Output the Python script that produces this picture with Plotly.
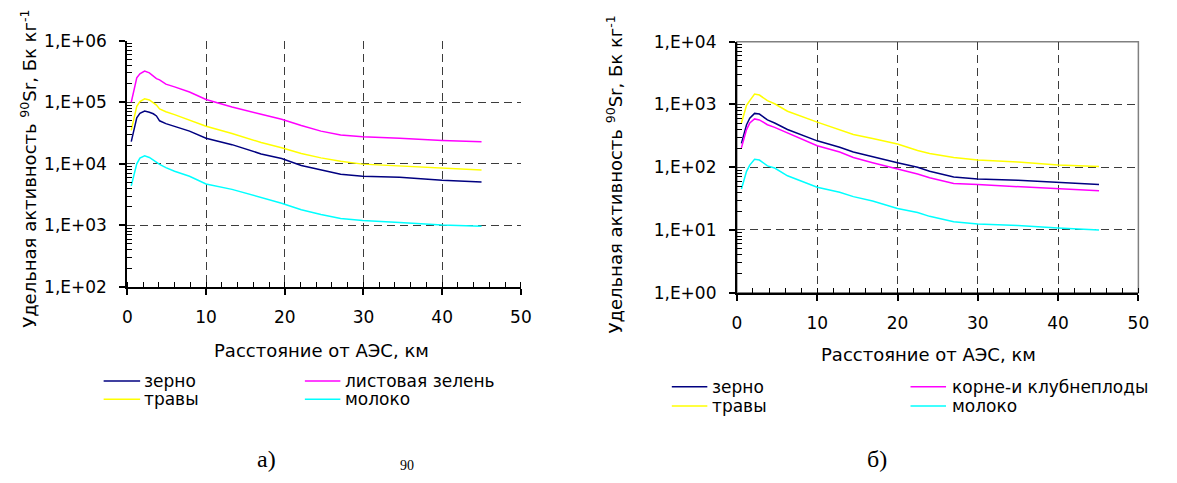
import plotly.graph_objects as go

# ---------------- data ----------------
# a) left chart
X_A = [0.5, 1.2, 1.6, 2.2, 2.8, 3.3, 3.7, 4.1, 4.9, 6.0, 7.9, 10.0, 13.3, 17.0,
       19.6, 22.1, 24.6, 27.1, 29.9, 34.6, 40.0, 45.0]
A_GRAIN = [2.3e4, 5.6e4, 6.6e4, 7.2e4, 6.9e4, 6.5e4, 6.0e4, 5.0e4, 4.5e4, 4.1e4, 3.4e4,
           2.6e4, 2.05e4, 1.45e4, 1.22e4, 9.4e3, 7.9e3, 6.8e3, 6.3e3, 6.05e3, 5.4e3, 5.07e3]
A_LEAF = [1.0e5, 2.5e5, 2.9e5, 3.2e5, 3.0e5, 2.7e5, 2.42e5, 2.31e5, 1.97e5, 1.78e5, 1.47e5,
          1.11e5, 8.4e4, 6.4e4, 5.3e4, 4.2e4, 3.4e4, 2.95e4, 2.75e4, 2.6e4, 2.39e4, 2.28e4]
A_GRASS = [3.5e4, 8.6e4, 1.03e5, 1.14e5, 1.09e5, 9.8e4, 9.0e4, 7.8e4, 7.0e4, 6.3e4, 5.1e4,
           4.08e4, 3.11e4, 2.22e4, 1.82e4, 1.47e4, 1.25e4, 1.1e4, 9.9e3, 9.2e3, 8.5e3, 7.98e3]
A_MILK = [4.4e3, 1.0e4, 1.24e4, 1.35e4, 1.27e4, 1.15e4, 1.06e4, 9.8e3, 8.7e3, 7.6e3, 6.3e3,
          4.7e3, 3.85e3, 2.86e3, 2.3e3, 1.8e3, 1.5e3, 1.3e3, 1.2e3, 1.12e3, 1.02e3, 0.97e3]
A_NAMES = ["зерно", "листовая зелень", "травы", "молоко"]

# б) right chart
X_B = [0.56, 1.2, 1.6, 2.2, 2.8, 3.8, 4.7, 6.3, 10.0, 12.8, 14.5, 16.9, 20.0, 22.5,
       24.0, 27.0, 30.0, 35.0, 40.0, 45.1]
B_GRAIN = [240, 475, 603, 720, 702, 567, 505, 398, 263, 208, 175, 146, 118, 100,
           86, 70, 65, 62, 57, 53]
B_ROOT = [203, 398, 505, 588, 567, 475, 431, 354, 220, 175, 143, 118, 94, 78,
          68, 55, 53, 49, 46, 42]
B_GRASS = [505, 966, 1150, 1460, 1410, 1150, 1025, 780, 523, 398, 333, 287, 234, 185,
           165, 143, 130, 121, 108, 103]
B_MILK = [45, 86, 108, 134, 130, 105, 97, 73, 48, 40, 34, 29, 22, 19,
          16.5, 13.5, 12.5, 11.8, 10.8, 10]
B_NAMES = ["зерно", "корне-и клубнеплоды", "травы", "молоко"]

X_TICKS = [0, 10, 20, 30, 40, 50]
A_YTICKS = [1e2, 1e3, 1e4, 1e5, 1e6]
A_YTEXT = ["1,E+02", "1,E+03", "1,E+04", "1,E+05", "1,E+06"]
B_YTICKS = [1e0, 1e1, 1e2, 1e3, 1e4]
B_YTEXT = ["1,E+00", "1,E+01", "1,E+02", "1,E+03", "1,E+04"]

X_TITLE = "Расстояние от АЭС, км"
Y_TITLE = "Удельная активность <sup>90</sup>Sr, Бк кг<sup>-1</sup>"
CAPTIONS = ["а)", "б)"]

COLORS = {"grain": "#000080", "leaf": "#FF00FF", "grass": "#FFFF00", "milk": "#00FFFF"}

# ---------------- figure ----------------
W, H = 1177, 483
def fx(p): return p / W
def fy(p): return 1 - p / H

SANS = "DejaVu Sans"
SERIF = "Liberation Serif"

fig = go.Figure()

series_a = [(A_NAMES[0], A_GRAIN, COLORS["grain"]), (A_NAMES[1], A_LEAF, COLORS["leaf"]),
            (A_NAMES[2], A_GRASS, COLORS["grass"]), (A_NAMES[3], A_MILK, COLORS["milk"])]
series_b = [(B_NAMES[0], B_GRAIN, COLORS["grain"]), (B_NAMES[1], B_ROOT, COLORS["leaf"]),
            (B_NAMES[2], B_GRASS, COLORS["grass"]), (B_NAMES[3], B_MILK, COLORS["milk"])]

for name, ys, col in series_a:
    fig.add_trace(go.Scatter(x=X_A, y=ys, mode="lines", name=name, showlegend=False,
                             line=dict(color=col, width=1.5), xaxis="x", yaxis="y"))
for name, ys, col in series_b:
    fig.add_trace(go.Scatter(x=X_B, y=ys, mode="lines", name=name, showlegend=False,
                             line=dict(color=col, width=1.5), xaxis="x2", yaxis="y2"))

tickfont = dict(family=SANS, size=17, color="black")
GRID = dict(showgrid=True, gridcolor="#3c3c3c", gridwidth=1.4, griddash="8px,5px")

def minor_log(lo, hi):
    vals = []
    for e in range(lo, hi):
        for m in range(2, 10):
            vals.append(m * 10 ** e)
    return vals

def xaxis(domain, anchor):
    return dict(domain=domain, anchor=anchor, range=[0, 50], tickvals=X_TICKS,
                ticks="outside", ticklen=6, tickwidth=1.5, tickcolor="black",
                showline=True, linecolor="black", linewidth=2, zeroline=False,
                minor=dict(ticks="inside", ticklen=5, tickwidth=1, tickcolor="black",
                           dtick=2, showgrid=False),
                tickfont=tickfont, ticklabelstandoff=8, fixedrange=True, **GRID)

def yaxis(domain, anchor, rng, tv, tt):
    return dict(domain=domain, anchor=anchor, type="log", range=rng, tickvals=tv, ticktext=tt,
                ticks="outside", ticklen=6, tickwidth=1.5, tickcolor="black",
                showline=True, linecolor="black", linewidth=2, zeroline=False,
                minor=dict(ticks="inside", ticklen=5, tickwidth=1, tickcolor="black",
                           tickvals=minor_log(rng[0], rng[1]), showgrid=False),
                tickfont=tickfont, ticklabelstandoff=9, fixedrange=True, **GRID)

annotations = []
shapes = []

def add_text(text, x, y, size, family=SANS, xanchor="center", yanchor="middle", angle=0):
    annotations.append(dict(text=text, x=fx(x), y=fy(y), xref="paper", yref="paper",
                            xanchor=xanchor, yanchor=yanchor, showarrow=False, textangle=angle,
                            font=dict(family=family, size=size, color="black")))

# axis titles
add_text(X_TITLE, 321, 355, 18)
add_text(X_TITLE, 936, 359, 18)
add_text(Y_TITLE, 24, 166, 18, angle=-90)
add_text(Y_TITLE, 618, 172, 18, angle=-90)

# legends (two columns per chart)
def legend(entries, cols_x, rows_y):
    # entries ordered: col1row1, col2row1, col1row2, col2row2
    pos = [(0, 0), (1, 0), (0, 1), (1, 1)]
    for (name, _, col), (c, r) in zip(entries, pos):
        x0, x1, xt = cols_x[c]
        y = rows_y[r]
        shapes.append(dict(type="line", xref="paper", yref="paper",
                           x0=fx(x0), x1=fx(x1), y0=fy(y), y1=fy(y),
                           line=dict(color=col, width=1.5)))
        add_text(name, xt, y, 17, xanchor="left")

legend(series_a, [(100, 137, 139), (304, 340, 343)], [387, 406])
legend(series_b, [(676, 712, 715), (918, 954, 958)], [393, 413])

# captions
add_text(CAPTIONS[0], 265, 468, 24, family=SERIF)
add_text(CAPTIONS[1], 884, 468, 24, family=SERIF)
add_text("90", 408, 475, 14, family=SERIF)

# frame for the right chart
shapes.append(dict(type="rect", xref="x2 domain", yref="y2 domain", x0=0, x1=1, y0=0, y1=1,
                   line=dict(color="#808080", width=1.5), layer="below"))

fig.update_layout(
    width=W, height=H, margin=dict(l=0, r=0, t=0, b=0),
    paper_bgcolor="white", plot_bgcolor="white", showlegend=False,
    xaxis=xaxis([fx(124), fx(523)], "y"),
    yaxis=yaxis([fy(289), fy(32)], "x", [2, 6], A_YTICKS, A_YTEXT),
    xaxis2=xaxis([fx(742), fx(1149)], "y2"),
    yaxis2=yaxis([fy(295), fy(33)], "x2", [0, 4], B_YTICKS, B_YTEXT),
    annotations=annotations, shapes=shapes,
)

fig.write_html("out.html", config={"displayModeBar": False})
